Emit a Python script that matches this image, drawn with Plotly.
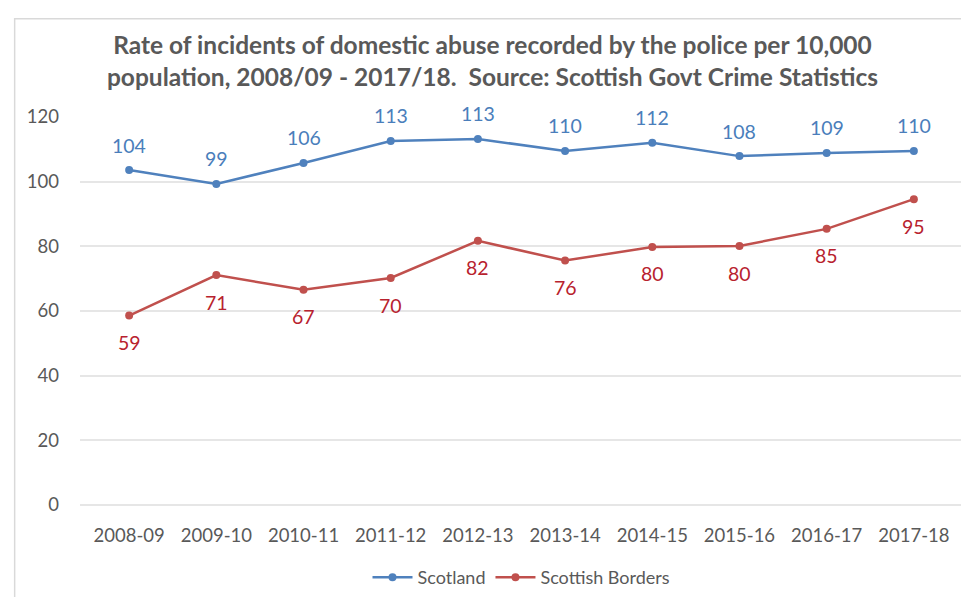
import plotly.graph_objects as go

# Data
years = ['2008-09', '2009-10', '2010-11', '2011-12', '2012-13',
         '2013-14', '2014-15', '2015-16', '2016-17', '2017-18']
scotland = [103.6, 99.3, 105.8, 112.6, 113.2, 109.5, 112.0, 107.9, 108.9, 109.5]
borders = [58.6, 71.1, 66.6, 70.2, 81.7, 75.6, 79.8, 80.1, 85.4, 94.6]
y_ticks = [0, 20, 40, 60, 80, 100, 120]

font_family = 'Lato, Carlito, Calibri, sans-serif'
blue = '#4F81BD'
red = '#C0504D'

fig = go.Figure()

fig.add_trace(go.Scatter(
    x=years, y=scotland, name='Scotland', mode='lines+markers',
    line=dict(color=blue, width=2.5), marker=dict(size=8, color=blue)
))
fig.add_trace(go.Scatter(
    x=years, y=borders, name='Scottish Borders', mode='lines+markers',
    line=dict(color=red, width=2.5), marker=dict(size=8, color=red)
))

# data labels, Scotland above the points and Borders below
for yr, v in zip(years, scotland):
    fig.add_annotation(x=yr, y=v, text=f'{v:.0f}', showarrow=False, yshift=25,
                       font=dict(color='#4A7EBB', size=19.5, family=font_family))
for yr, v in zip(years, borders):
    fig.add_annotation(x=yr, y=v, text=f'{v:.0f}', showarrow=False, yshift=-27,
                       font=dict(color='#B8222E', size=19.5, family=font_family))

# outer chart frame
fig.add_shape(type='rect', xref='paper', yref='paper',
              x0=-0.074, x1=1.05, y0=-0.4, y1=1.253,
              line=dict(color='#D9D9D9', width=1.5), fillcolor='rgba(0,0,0,0)',
              layer='below')

fig.update_layout(
    width=969, height=597,
    paper_bgcolor='white', plot_bgcolor='white',
    margin=dict(l=72, r=14, t=109, b=100, autoexpand=False),
    font=dict(family=font_family, color='#595959', size=18),
    title=dict(
        text='<b>Rate of incidents of domestic abuse recorded by the police per 10,000<br>'
             'population, 2008/09 - 2017/18.  Source: Scottish Govt Crime Statistics</b>',
        x=0.5, xanchor='center', y=0.923, yanchor='middle', yref='container',
        font=dict(size=24.5, color='#595959', family=font_family)
    ),
    showlegend=True,
    legend=dict(orientation='h', x=0.5, xanchor='center', y=0.046, yanchor='middle',
                yref='container', font=dict(size=18, color='#595959'), itemwidth=40)
)

fig.update_xaxes(type='category', showgrid=False, showline=False, ticks='',
                 tickfont=dict(size=18.5), ticklabelstandoff=17)
fig.update_yaxes(range=[0, 120], tickvals=y_ticks, showgrid=True, gridcolor='#E6E6E6',
                 gridwidth=1.5, zeroline=True, zerolinecolor='#E6E6E6', zerolinewidth=1.5,
                 ticks='', ticklen=0, tickfont=dict(size=18.5), ticklabelstandoff=20)

fig.write_html("out.html")
